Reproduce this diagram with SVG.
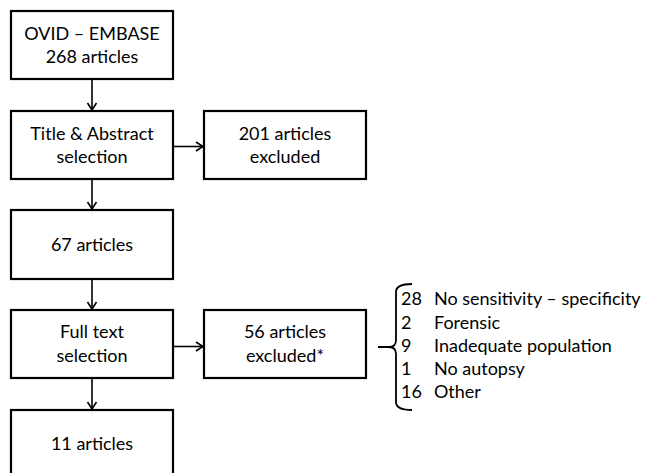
<svg xmlns="http://www.w3.org/2000/svg" width="646" height="473" viewBox="0 0 646 473">
<defs>
<marker id="arr" markerWidth="12" markerHeight="12" refX="10" refY="6" orient="auto" markerUnits="userSpaceOnUse">
<path d="M3,1.5 L10,6 L3,10.5" fill="none" stroke="#000" stroke-width="1.6"/>
</marker>
<style>
.box{fill:#fff;stroke:#000;stroke-width:2.2}
.t{font-family:Lato,"Open Sans","Liberation Sans",sans-serif;font-size:18px;fill:#000;text-anchor:middle}
.l{font-family:Lato,"Open Sans","Liberation Sans",sans-serif;font-size:18px;fill:#000}
.c{fill:none;stroke:#000;stroke-width:1.6}
</style>
</defs>
<rect width="646" height="473" fill="#fff"/>
<g id="connectors">
<line class="c" x1="92" y1="79" x2="92" y2="110" marker-end="url(#arr)"/>
<line class="c" x1="92" y1="179" x2="92" y2="209" marker-end="url(#arr)"/>
<line class="c" x1="92" y1="279" x2="92" y2="309" marker-end="url(#arr)"/>
<line class="c" x1="92" y1="378" x2="92" y2="409" marker-end="url(#arr)"/>
<line class="c" x1="173" y1="146.5" x2="203" y2="146.5" marker-end="url(#arr)"/>
<line class="c" x1="173" y1="346.5" x2="203" y2="346.5" marker-end="url(#arr)"/>
</g>
<g id="n1"><rect class="box" x="11" y="11" width="162" height="68"/>
<text class="t" x="92" y="40">OVID – EMBASE</text><text class="t" x="92" y="63">268 articles</text></g>
<g id="n2"><rect class="box" x="11" y="111" width="162" height="68"/>
<text class="t" x="92" y="140">Title &amp; Abstract</text><text class="t" x="92" y="163">selection</text></g>
<g id="n3"><rect class="box" x="204" y="111" width="162" height="68"/>
<text class="t" x="285" y="140">201 articles</text><text class="t" x="285" y="163">excluded</text></g>
<g id="n4"><rect class="box" x="11" y="210" width="162" height="69"/>
<text class="t" x="92" y="251">67 articles</text></g>
<g id="n5"><rect class="box" x="11" y="310" width="162" height="68"/>
<text class="t" x="92" y="338">Full text</text><text class="t" x="92" y="362">selection</text></g>
<g id="n6"><rect class="box" x="204" y="310" width="162" height="68"/>
<text class="t" x="285" y="338">56 articles</text><text class="t" x="285" y="362">excluded*</text></g>
<g id="n7"><rect class="box" x="11" y="410" width="162" height="80"/>
<text class="t" x="92" y="450">11 articles</text></g>
<g id="brace">
<path d="M412,284 Q396,284 396,292 L396,340 Q396,347 389,347 L378,347 M389,347 Q396,347 396,354 L396,402 Q396,410 412,410" fill="none" stroke="#000" stroke-width="1.8"/>
<text class="l" x="401" y="305">28</text><text class="l" x="434" y="305">No sensitivity – specificity</text>
<text class="l" x="401" y="329">2</text><text class="l" x="434" y="329">Forensic</text>
<text class="l" x="401" y="352">9</text><text class="l" x="434" y="352">Inadequate population</text>
<text class="l" x="401" y="375">1</text><text class="l" x="434" y="375">No autopsy</text>
<text class="l" x="401" y="398">16</text><text class="l" x="434" y="398">Other</text>
</g>
</svg>
